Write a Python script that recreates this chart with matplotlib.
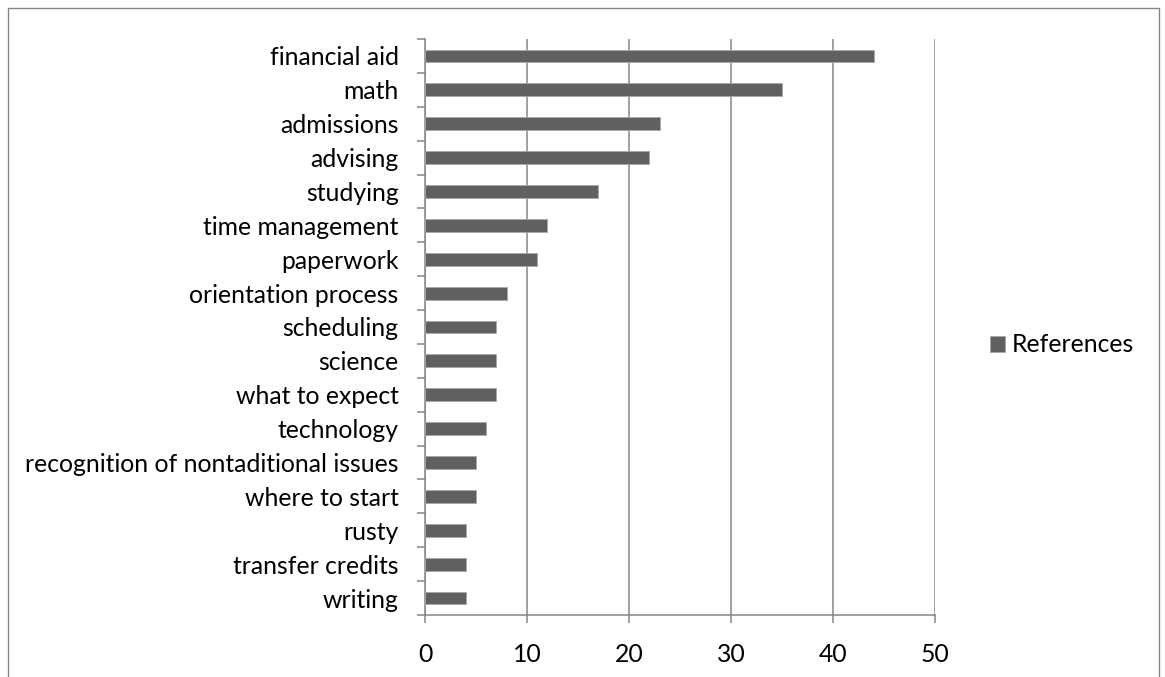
import matplotlib
matplotlib.use("Agg")
import matplotlib.pyplot as plt
from matplotlib.patches import Rectangle
import numpy as np

categories = [
    "financial aid", "math", "admissions", "advising", "studying",
    "time management", "paperwork", "orientation process", "scheduling",
    "science", "what to expect", "technology",
    "recognition of nontaditional issues", "where to start", "rusty",
    "transfer credits", "writing",
]
references = [44, 35, 23, 22, 17, 12, 11, 8, 7, 7, 7, 6, 5, 5, 4, 4, 4]
series_name = "References"
x_ticks = [0, 10, 20, 30, 40, 50]

plt.rcParams["font.family"] = ["Lato", "DejaVu Sans"]

W, H = 1165, 677
fig = plt.figure(figsize=(W / 100, H / 100), dpi=100)
fig.patch.set_facecolor("white")

# outer chart frame
fig.patches.append(Rectangle((8 / W, -0.02), (1159 - 8) / W, (H - 8) / H + 0.02,
                             transform=fig.transFigure, fill=False,
                             edgecolor="#868686", linewidth=1.0))

ax = fig.add_axes([425 / W, (H - 615) / H, (935 - 425) / W, (615 - 39) / H])

n = len(categories)
y = np.arange(n)[::-1]
bar_color = "#606060"
ax.barh(y, references, height=0.38, color=bar_color, edgecolor="#a8a8a8",
        linewidth=0.6, label=series_name, zorder=3)

fs = 17.8
ax.set_xlim(0, 50)
ax.set_ylim(-0.5, n - 0.5)
ax.set_xticks(x_ticks)
ax.set_xticklabels([str(t) for t in x_ticks], fontsize=fs)
ax.set_yticks(y)
ax.set_yticklabels(categories, fontsize=fs)
ax.set_yticks(np.arange(n + 1) - 0.5, minor=True)

gcol = "#868686"
ax.tick_params(axis="y", which="major", length=0, pad=19)
ax.tick_params(axis="y", which="minor", length=6, width=1.1, color=gcol)
ax.tick_params(axis="x", which="major", length=6, width=1.1, color=gcol, pad=14)
ax.grid(axis="x", color=gcol, linewidth=1.1, zorder=0)

for side in ["top", "right"]:
    ax.spines[side].set_visible(False)
for side in ["left", "bottom"]:
    ax.spines[side].set_color(gcol)
    ax.spines[side].set_linewidth(1.1)

ax.legend(loc="center left", bbox_to_anchor=(990 / W, (H - 345) / H),
          bbox_transform=fig.transFigure, frameon=False, fontsize=fs,
          handlelength=0.6, handleheight=0.6, handletextpad=0.3,
          borderaxespad=0, borderpad=0)

fig.savefig("out.png", dpi=100, facecolor="white")
